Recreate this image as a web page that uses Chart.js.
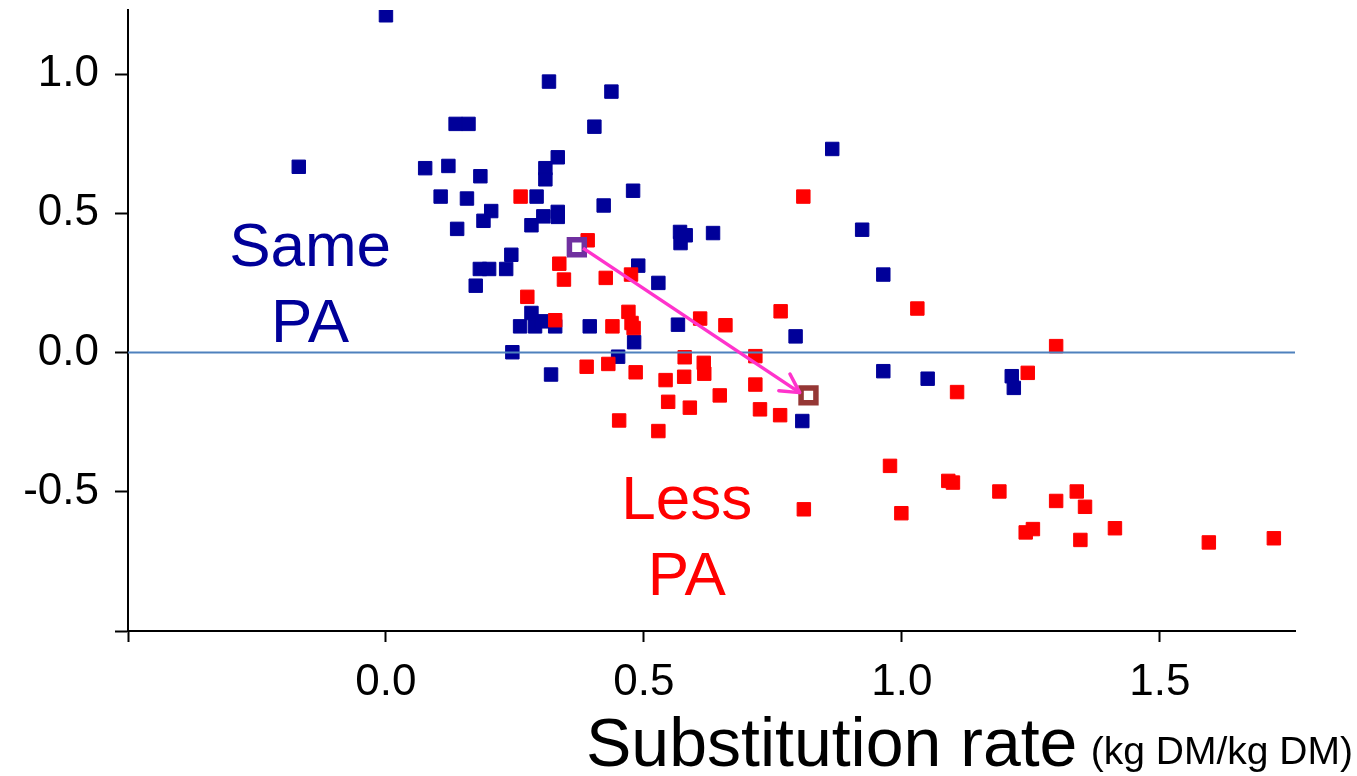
<!DOCTYPE html>
<html><head><meta charset="utf-8">
<script src="https://cdn.jsdelivr.net/npm/chart.js@4.4.0/dist/chart.umd.min.js"></script>
<style>html,body{margin:0;padding:0;background:#fff;overflow:hidden}#wrap{width:1357px;height:776px;position:relative}</style>
</head><body><div id="wrap"><canvas id="c"></canvas></div>
<script>
// ---- data ----
const samePaX = [0.000,-0.169,0.316,0.437,0.404,0.135,0.160,0.076,0.121,0.183,0.333,0.309,0.309,0.106,0.157,0.292,0.204,0.189,0.138,0.282,0.305,0.333,0.333,0.422,0.479,0.243,0.182,0.200,0.233,0.174,0.282,0.260,0.289,0.302,0.328,0.395,0.245,0.320,0.450,0.481,0.566,0.528,0.489,0.570,0.581,0.571,0.634,0.794,0.807,0.865,0.923,0.964,0.964,1.050,1.213,1.217];
const samePaY = [1.211,0.667,0.973,0.937,0.811,0.821,0.821,0.662,0.670,0.633,0.701,0.662,0.622,0.560,0.553,0.560,0.508,0.473,0.444,0.457,0.489,0.505,0.487,0.528,0.581,0.351,0.300,0.300,0.300,0.240,0.142,0.094,0.094,0.112,0.094,0.094,0.001,-0.079,-0.015,0.037,0.100,0.250,0.312,0.433,0.421,0.393,0.429,0.058,-0.246,0.731,0.441,0.280,-0.067,-0.094,-0.085,-0.127];
const lessPaX = [0.261,0.336,0.345,0.274,0.328,0.391,0.426,0.475,0.439,0.470,0.476,0.480,0.609,0.658,0.765,0.809,0.389,0.431,0.484,0.542,0.579,0.578,0.616,0.617,0.716,0.716,0.647,0.547,0.589,0.725,0.764,0.452,0.528,1.030,1.299,1.244,1.107,0.977,0.999,1.090,1.099,1.189,1.299,1.339,1.355,1.240,1.254,1.346,1.413,1.595,1.721,0.810];
const lessPaY = [0.560,0.319,0.262,0.200,0.116,0.403,0.268,0.280,0.094,0.146,0.106,0.088,0.122,0.098,0.148,0.560,-0.051,-0.041,-0.071,-0.099,-0.017,-0.087,-0.037,-0.076,-0.013,-0.115,-0.154,-0.177,-0.198,-0.204,-0.225,-0.244,-0.282,0.158,0.023,-0.073,-0.142,-0.407,-0.577,-0.461,-0.467,-0.499,-0.533,-0.499,-0.554,-0.646,-0.634,-0.673,-0.631,-0.682,-0.667,-0.563];
const startX = [0.370], startY = [0.378];
const endX = [0.819], endY = [-0.154];
const arrowX = [0.382, 0.802], arrowY = [0.375, -0.144];
const zeroX = [-0.5, 1.8], zeroY = [0, 0];
const xTickValues = [-0.5, 0, 0.5, 1, 1.5];
const xTickLabels = ['', '0.0', '0.5', '1.0', '1.5'];
const yTickValues = [-1, -0.5, 0, 0.5, 1];
const yTickLabels = ['', '-0.5', '0.0', '0.5', '1.0'];
const xRange = [-0.5, 1.762], yRange = [-1, 1.23];
const groupLabels = [
  {lines: ['Same', 'PA'], x: -0.147, y: [0.312, 0.036], color: '#000099'},
  {lines: ['Less', 'PA'], x: 0.583, y: [-0.599, -0.871], color: '#FF0000'}
];
const xTitleMain = 'Substitution rate', xTitleUnit = '(kg DM/kg DM)';

const pts = (xs, ys) => xs.map((v, i) => ({x: v, y: ys[i]}));
const FONT = "'Liberation Sans', Arial, sans-serif";

const annotatePlugin = {
  id: 'annot',
  afterDatasetDraw(chart, args) {
    if (args.meta.label !== 'arrow') return;
    const d = args.meta.data; if (d.length < 2) return;
    const a = d[d.length - 2], b = d[d.length - 1];
    const ang = Math.atan2(b.y - a.y, b.x - a.x);
    const ctx = chart.ctx, L = 21, sp = 0.5;
    ctx.save();
    ctx.strokeStyle = '#FF33CC'; ctx.lineWidth = 3.5; ctx.lineCap = 'round'; ctx.lineJoin = 'round';
    ctx.beginPath();
    ctx.moveTo(b.x - L * Math.cos(ang - sp), b.y - L * Math.sin(ang - sp));
    ctx.lineTo(b.x, b.y);
    ctx.lineTo(b.x - L * Math.cos(ang + sp), b.y - L * Math.sin(ang + sp));
    ctx.stroke();
    ctx.restore();
  },
  afterDraw(chart) {
    const ctx = chart.ctx, xs = chart.scales.x, ys = chart.scales.y;
    ctx.save();
    ctx.textAlign = 'center'; ctx.textBaseline = 'alphabetic';
    ctx.font = '62px ' + FONT;
    groupLabels.forEach(g => {
      ctx.fillStyle = g.color;
      g.lines.forEach((t, i) => ctx.fillText(t, xs.getPixelForValue(g.x), ys.getPixelForValue(g.y[i])));
    });
    ctx.fillStyle = '#000';
    ctx.textAlign = 'left';
    ctx.font = '68px ' + FONT;
    ctx.fillText(xTitleMain, 586, 766);
    ctx.textAlign = 'right';
    ctx.font = '39px ' + FONT;
    ctx.fillText(xTitleUnit, 1353, 764);
    ctx.restore();
  }
};

new Chart(document.getElementById('c'), {
  type: 'scatter',
  data: {
    datasets: [
      {label: 'arrow', data: pts(arrowX, arrowY), showLine: true, borderColor: '#FF33CC', borderWidth: 3.5, pointRadius: 0, order: 0},
      {label: 'start', data: pts(startX, startY), pointStyle: 'rect', pointRadius: 10.5, backgroundColor: '#FFFFFF', borderColor: '#7030A0', borderWidth: 5.5, pointBorderWidth: 5.5, order: 1},
      {label: 'end', data: pts(endX, endY), pointStyle: 'rect', pointRadius: 10.5, backgroundColor: '#FFFFFF', borderColor: '#953735', borderWidth: 5.5, pointBorderWidth: 5.5, order: 1},
      {label: 'zero', data: pts(zeroX, zeroY), showLine: true, borderColor: '#4F81BD', borderWidth: 2, pointRadius: 0, order: 2},
      {label: 'Less PA', data: pts(lessPaX, lessPaY), pointStyle: 'rect', pointRadius: 9.5, backgroundColor: '#FF0000', borderColor: '#FF0000', borderWidth: 1, pointBorderWidth: 1, order: 3},
      {label: 'Same PA', data: pts(samePaX, samePaY), pointStyle: 'rect', pointRadius: 9.5, backgroundColor: '#000099', borderColor: '#000099', borderWidth: 1, pointBorderWidth: 1, order: 4}
    ]
  },
  options: {
    responsive: true, maintainAspectRatio: false, animation: false,
    layout: {autoPadding: false, padding: {top: 10, right: 62, left: 0, bottom: 0}},
    plugins: {legend: {display: false}, tooltip: {enabled: false}},
    events: [],
    scales: {
      x: {
        type: 'linear', min: xRange[0], max: xRange[1],
        afterBuildTicks: s => { s.ticks = xTickValues.map(v => ({value: v})); },
        afterFit: s => { s.height = 145; s.paddingLeft = 0; s.paddingRight = 0; },
        grid: {display: true, drawOnChartArea: false, drawTicks: true, tickLength: 11, tickWidth: 2, tickColor: '#000'},
        border: {display: true, color: '#000', width: 2},
        ticks: {callback: (v, i) => xTickLabels[i], font: {family: FONT, size: 44}, color: '#000', padding: 14, maxRotation: 0, autoSkip: false}
      },
      y: {
        type: 'linear', min: yRange[0], max: yRange[1],
        afterBuildTicks: s => { s.ticks = yTickValues.map(v => ({value: v})); },
        afterFit: s => { s.width = 128; s.paddingTop = 0; s.paddingBottom = 0; },
        grid: {display: true, drawOnChartArea: false, drawTicks: true, tickLength: 13, tickWidth: 2, tickColor: '#000'},
        border: {display: true, color: '#000', width: 2},
        ticks: {callback: (v, i) => yTickLabels[i], font: {family: FONT, size: 44}, color: '#000', padding: 16, autoSkip: false}
      }
    }
  },
  plugins: [annotatePlugin]
});
</script></body></html>
